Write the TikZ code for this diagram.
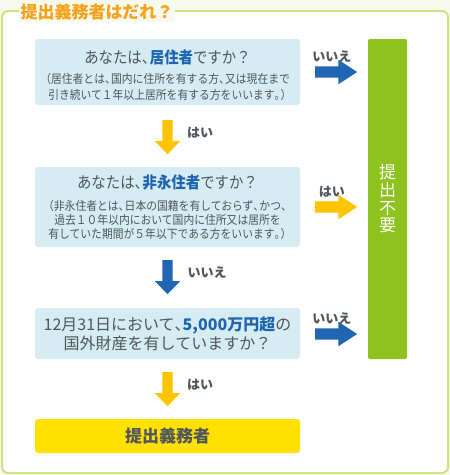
\documentclass[tikz,border=0pt]{standalone}
\usepackage{fontspec}
\setmainfont{Noto Sans CJK JP}
\newfontfamily\subfont[FakeStretch=0.9]{Noto Sans CJK JP}
\usetikzlibrary{shapes.arrows,positioning}
\definecolor{bgcream}{HTML}{F7FAEC}
\definecolor{framegreen}{HTML}{CDE47C}
\definecolor{qblue}{HTML}{D4ECF2}
\definecolor{keyblue}{HTML}{1F64B0}
\definecolor{arrowblue}{HTML}{2166B2}
\definecolor{arrowyellow}{HTML}{FFC400}
\definecolor{goalyellow}{HTML}{FFE100}
\definecolor{barGreen}{HTML}{8DC21F}
\definecolor{titleorange}{HTML}{F8A21C}
\definecolor{txtgray}{HTML}{50565D}
\tikzset{
    qbox/.style={
        rectangle,
        rounded corners=3pt,
        fill=qblue,
        text=txtgray,
        align=center,
        inner sep=0pt,
        minimum width=265pt
    },
    goalbox/.style={
        rectangle,
        rounded corners=3pt,
        fill=goalyellow,
        text=txtgray,
        inner sep=0pt,
        minimum width=265pt,
        minimum height=34pt,
        font=\fontsize{17}{17}\selectfont\bfseries
    },
    endbar/.style={
        rectangle,
        rounded corners=2pt,
        fill=barGreen,
        text=white,
        align=center,
        inner sep=0pt,
        minimum width=39pt,
        minimum height=320pt,
        font=\fontsize{17}{17.7}\selectfont
    },
    rarrow/.style={
        single arrow,
        fill=#1,
        anchor=tail,
        inner sep=5.5pt,
        single arrow head extend=6.5pt,
        single arrow tip angle=66,
        minimum height=42pt
    },
    darrow/.style={
        single arrow,
        fill=#1,
        anchor=tail,
        rotate=-90,
        inner sep=5pt,
        single arrow head extend=7.5pt,
        single arrow tip angle=88,
        minimum height=34pt
    },
    answer/.style={
        text=txtgray,
        inner sep=0pt,
        font=\fontsize{13}{13}\selectfont\bfseries
    }
}
% half-width punctuation
\newcommand{\hc}{\makebox[.5em][l]{、}}
\newcommand{\hp}{\makebox[.5em][l]{。}}
\newcommand{\hl}{\makebox[.5em][r]{（}}
\newcommand{\hr}{\makebox[.5em][l]{）}}
\newcommand{\maintxt}{\fontsize{16}{16}\selectfont}

\begin{document}
\begin{tikzpicture}[x=1pt, y=-1pt]

\fill[bgcream] (0,0) rectangle (450,475);
\useasboundingbox (0,0) rectangle (450,475);
\draw[framegreen, line width=2pt, fill=white, rounded corners=6pt] (2,11) rectangle (448,473);
\node[fill=bgcream, text=titleorange, inner sep=2pt,
      font=\fontsize{17}{17}\selectfont\bfseries] (title) at (97,12) {提出義務者はだれ？};

% question boxes
\node[qbox, minimum height=66pt, font=\subfont\fontsize{12}{16}\selectfont] (resident) at (167.5,72)
    {{\maintxt\rule{0pt}{20pt}あなたは\hc{\bfseries\color{keyblue}居住者}ですか？}\\[3.5pt]
     \hl 居住者とは\hc 国内に住所を有する方\hc 又は現在まで\\
     引き続いて１年以上居所を有する方をいいます\hp\hr};
\node[qbox, minimum height=80pt, font=\subfont\fontsize{12}{13.8}\selectfont] (nonperm) at (167.5,207)
    {{\maintxt あなたは\hc{\bfseries\color{keyblue}非永住者}ですか？}\\[8.2pt]
     \hl 非永住者とは\hc 日本の国籍を有しておらず\hc かつ\hc\\
     過去１０年以内において国内に住所又は居所を\\
     有していた期間が５年以下である方をいいます\hp\hr};
\node[qbox, minimum height=51pt, font=\fontsize{16}{19}\selectfont] (assets) at (167.5,333.5)
    {12月31日において\hc{\bfseries\color{keyblue}5,000万円超}の\\
     国外財産を有していますか？};
\node[goalbox] (duty) at (167.5,436) {提出義務者};
\node[endbar] (nofile) at (387.5,199) {提\\出\\不\\要};

% arrows down
\node[darrow=arrowyellow] (d1) at (167.5,120) {};
\node[darrow=arrowblue] (d2) at (167.5,260) {};
\node[darrow=arrowyellow] (d3) at (167.5,372) {};
\node[answer] at (200,133) {はい};
\node[answer] at (207,273) {いいえ};
\node[answer] at (200,385) {はい};

% arrows right
\node[rarrow=arrowblue] (r1) at (315,72) {};
\node[rarrow=arrowyellow] (r2) at (315,207) {};
\node[rarrow=arrowblue] (r3) at (315,334) {};
\node[answer, above=4pt of r1] {いいえ};
\node[answer, above=4pt of r2] {はい};
\node[answer, above=4pt of r3] {いいえ};

\end{tikzpicture}
\end{document}
